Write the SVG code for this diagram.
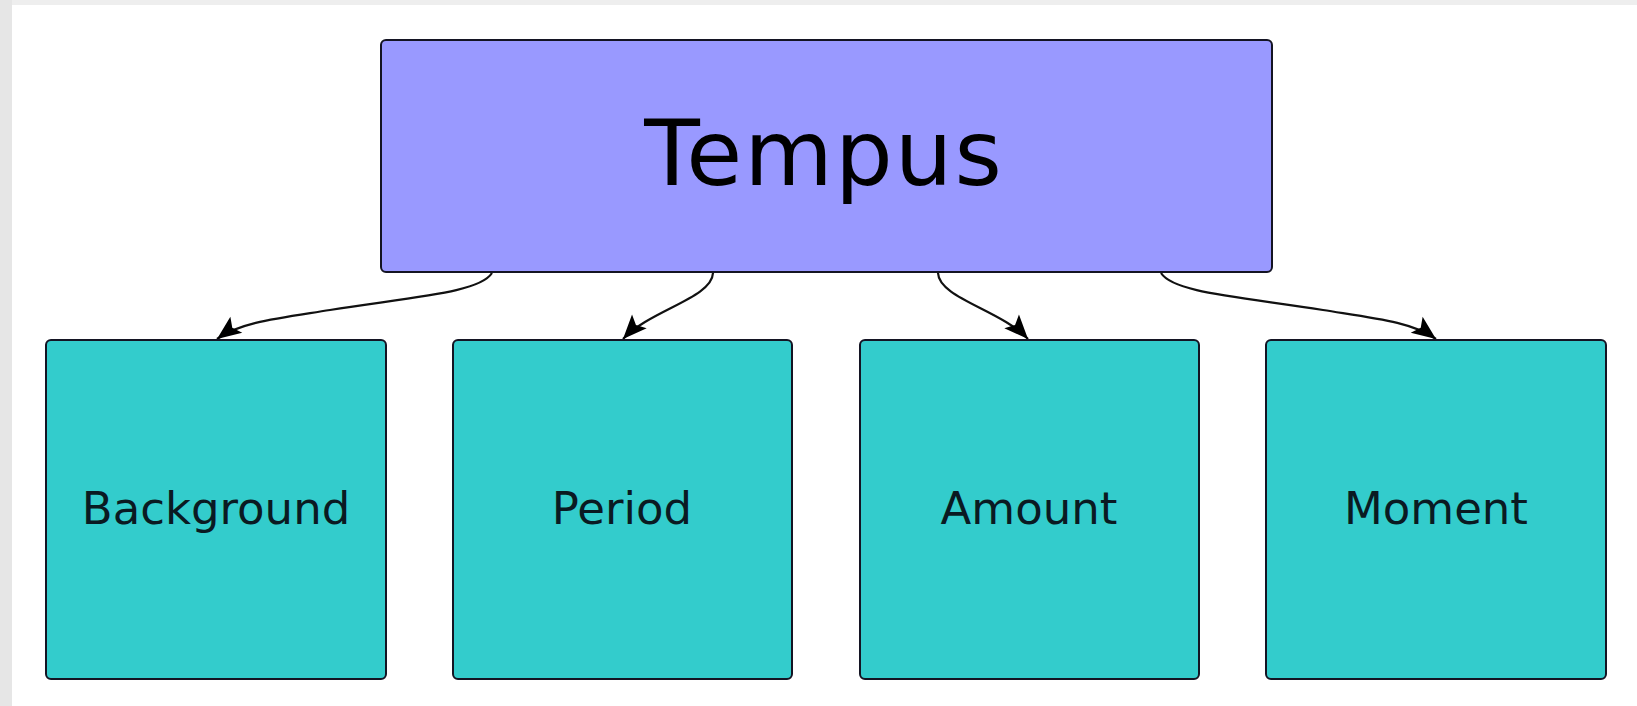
<svg xmlns="http://www.w3.org/2000/svg" width="1637" height="706" viewBox="0 0 1637 706">
<style>
.node{stroke:#141423;stroke-width:2}
.top{fill:#9999ff}
.child{fill:#33cccc}
.lbl{font-family:"DejaVu Sans",Verdana,sans-serif;text-anchor:middle}
.edge{fill:none;stroke:#111;stroke-width:2.2}
</style>
<defs>
<marker id="arr" markerUnits="userSpaceOnUse" markerWidth="30" markerHeight="26" viewBox="-26 -13 28 26" refX="0" refY="0" orient="auto" overflow="visible">
<path d="M0,0 L-24,-10 L-19,0 L-24,10 Z" fill="#000"/>
</marker>
</defs>
<rect x="0" y="0" width="1637" height="706" fill="#eeeeee"/>
<rect x="0" y="0" width="12" height="706" fill="#e6e6e6"/>
<rect x="12" y="5" width="1625" height="701" fill="#ffffff"/>
<g id="connectors">
<path class="edge" marker-end="url(#arr)" d="M492,273 C480,292 420,296 330,310 C280,318 240,322 217,339"/>
<path class="edge" marker-end="url(#arr)" d="M713,273 C712,298 650,310 623,339"/>
<path class="edge" marker-end="url(#arr)" d="M938,273 C939,298 1001,310 1028,339"/>
<path class="edge" marker-end="url(#arr)" d="M1161,273 C1173,292 1233,296 1323,310 C1373,318 1413,322 1436,339"/>
</g>
<g id="tempus">
<rect class="node top" x="381" y="40" width="891" height="232" rx="5"/>
<text class="lbl" x="824" y="185" font-size="91" letter-spacing="2" fill="#000">Tempus</text>
</g>
<g id="background">
<rect class="node child" x="46" y="340" width="340" height="339" rx="5"/>
<text class="lbl" x="216" y="524" font-size="45" fill="#0a1a22">Background</text>
</g>
<g id="period">
<rect class="node child" x="453" y="340" width="339" height="339" rx="5"/>
<text class="lbl" x="622" y="524" font-size="45" fill="#0a1a22">Period</text>
</g>
<g id="amount">
<rect class="node child" x="860" y="340" width="339" height="339" rx="5"/>
<text class="lbl" x="1029" y="524" font-size="45" fill="#0a1a22">Amount</text>
</g>
<g id="moment">
<rect class="node child" x="1266" y="340" width="340" height="339" rx="5"/>
<text class="lbl" x="1436" y="524" font-size="45" fill="#0a1a22">Moment</text>
</g>
</svg>
